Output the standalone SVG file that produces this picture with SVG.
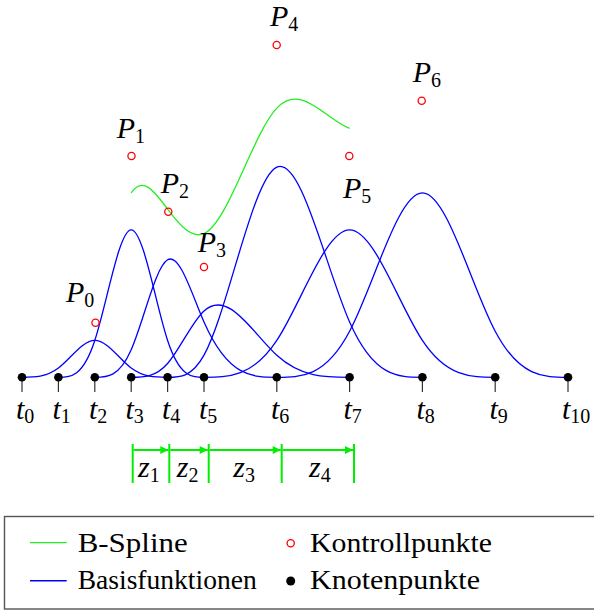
<svg xmlns="http://www.w3.org/2000/svg" width="594" height="612" viewBox="0 0 594 612">
<style>
  .math { font-family: "Liberation Serif", "Times New Roman", "DejaVu Serif", serif; font-style: italic; font-size: 30px; fill: #000; }
  .sub { font-style: normal; font-size: 20px; }
  .leg { font-family: "Liberation Serif", "Times New Roman", "DejaVu Serif", serif; font-size: 27px; fill: #000; }
  .basis { fill: none; stroke: #0000ff; stroke-width: 1.3; vector-effect: non-scaling-stroke; }
  .spline { fill: none; stroke: #22ee22; stroke-width: 1.3; vector-effect: non-scaling-stroke; }
  .cp { fill: none; stroke: #ff0000; stroke-width: 1.3; }
  .knot { fill: #000; }
  .tick { stroke: #333; stroke-width: 1.2; }
  .bar { stroke: #00ee00; stroke-width: 2; }
  .arr { stroke: #00ee00; stroke-width: 2; marker-end: url(#ah); }
</style>
<defs>
  <marker id="ah" viewBox="0 0 10 10" refX="10" refY="5" markerWidth="10" markerHeight="8" markerUnits="userSpaceOnUse" orient="auto">
    <path d="M0,0 L10,5 L0,10 Z" fill="#00ee00"/>
  </marker>
</defs>

<!-- basis functions and spline, in (t, value) units -->
<g id="curves" transform="matrix(36.4 0 0 -55.3 22 377.3)">
  <g id="basisfunktionen">
    <path id="N0" class="basis" d="M0,0 C0.3333,0 0.6667,0 1,0.16667 C1.3333,0.33333 1.6667,0.66667 2,0.66667 C2.3333,0.66667 2.6667,0.33333 3,0.16667 C3.3333,0 3.6667,0 4,0"/>
    <path id="N1" class="basis" d="M1,0 C1.3333,0 1.6667,0 2,0.66667 C2.3333,1.33333 2.6667,2.66667 3,2.66667 C3.3333,2.66667 3.6667,1.33333 4,0.66667 C4.3333,0 4.6667,0 5,0"/>
    <path id="N2" class="basis" d="M2,0 C2.3333,0 2.6667,0 3,0.5 C3.3333,1 3.6667,2 4,2.125 C4.3333,2.25 4.6667,1.5 5,1 C5.6667,0 6.3333,0 7,0"/>
    <path id="N3" class="basis" d="M3,0 C3.3333,0 3.6667,0 4,0.25 C4.3333,0.5 4.6667,1 5,1.2 C5.6667,1.6 6.3333,0.8 7,0.4 C7.6667,0 8.3333,0 9,0"/>
    <path id="N4" class="basis" d="M4,0 C4.3333,0 4.6667,0 5,0.4 C5.6667,1.2 6.3333,3.6 7,3.8 C7.6667,4 8.3333,2 9,1 C9.6667,0 10.3333,0 11,0"/>
    <path id="N5" class="basis" d="M5,0 C5.6667,0 6.3333,0 7,0.66667 C7.6667,1.33333 8.3333,2.66667 9,2.66667 C9.6667,2.66667 10.3333,1.33333 11,0.66667 C11.6667,0 12.3333,0 13,0"/>
    <path id="N6" class="basis" d="M7,0 C7.6667,0 8.3333,0 9,0.83333 C9.6667,1.66667 10.3333,3.33333 11,3.33333 C11.6667,3.33333 12.3333,1.66667 13,0.83333 C13.6667,0 14.3333,0 15,0"/>
  </g>
  <path id="bspline" class="spline" d="M3,3.33333 C3.3333,3.66667 3.6667,3.33333 4,3.04167 C4.3333,2.75 4.6667,2.5 5,2.6 C5.6667,2.8 6.3333,4.4 7,4.86667 C7.6667,5.33333 8.3333,4.66667 9,4.5"/>
</g>

<!-- knots -->
<g id="knoten">
  <g class="tick">
    <line x1="22" y1="379" x2="22" y2="392"/>
    <line x1="58.4" y1="379" x2="58.4" y2="392"/>
    <line x1="94.8" y1="379" x2="94.8" y2="392"/>
    <line x1="131.2" y1="379" x2="131.2" y2="392"/>
    <line x1="167.6" y1="379" x2="167.6" y2="392"/>
    <line x1="204" y1="379" x2="204" y2="392"/>
    <line x1="276.8" y1="379" x2="276.8" y2="392"/>
    <line x1="349.6" y1="379" x2="349.6" y2="392"/>
    <line x1="422.4" y1="379" x2="422.4" y2="392"/>
    <line x1="495.2" y1="379" x2="495.2" y2="392"/>
    <line x1="568" y1="379" x2="568" y2="392"/>
  </g>
  <g class="knot">
    <circle cx="22" cy="377.3" r="4.3"/>
    <circle cx="58.4" cy="377.3" r="4.3"/>
    <circle cx="94.8" cy="377.3" r="4.3"/>
    <circle cx="131.2" cy="377.3" r="4.3"/>
    <circle cx="167.6" cy="377.3" r="4.3"/>
    <circle cx="204" cy="377.3" r="4.3"/>
    <circle cx="276.8" cy="377.3" r="4.3"/>
    <circle cx="349.6" cy="377.3" r="4.3"/>
    <circle cx="422.4" cy="377.3" r="4.3"/>
    <circle cx="495.2" cy="377.3" r="4.3"/>
    <circle cx="568" cy="377.3" r="4.3"/>
  </g>
  <g class="math">
    <text x="16" y="419">t<tspan class="sub" dy="4">0</tspan></text>
    <text x="52.5" y="419">t<tspan class="sub" dy="4">1</tspan></text>
    <text x="89" y="419">t<tspan class="sub" dy="4">2</tspan></text>
    <text x="125.5" y="419">t<tspan class="sub" dy="4">3</tspan></text>
    <text x="162" y="419">t<tspan class="sub" dy="4">4</tspan></text>
    <text x="199" y="419">t<tspan class="sub" dy="4">5</tspan></text>
    <text x="271" y="419">t<tspan class="sub" dy="4">6</tspan></text>
    <text x="343.5" y="419">t<tspan class="sub" dy="4">7</tspan></text>
    <text x="416.5" y="419">t<tspan class="sub" dy="4">8</tspan></text>
    <text x="489.5" y="419">t<tspan class="sub" dy="4">9</tspan></text>
    <text x="562" y="419">t<tspan class="sub" dy="4">10</tspan></text>
  </g>
</g>

<!-- control points -->
<g id="kontrollpunkte">
  <g class="cp">
    <circle cx="95.5" cy="322.7" r="3.6"/>
    <circle cx="131.5" cy="156" r="3.6"/>
    <circle cx="168.3" cy="211.7" r="3.6"/>
    <circle cx="204" cy="267" r="3.6"/>
    <circle cx="276.7" cy="45" r="3.6"/>
    <circle cx="349.3" cy="156" r="3.6"/>
    <circle cx="421.7" cy="100.7" r="3.6"/>
  </g>
  <g class="math">
    <text x="66" y="301.7">P<tspan class="sub" dy="5">0</tspan></text>
    <text x="116.7" y="138">P<tspan class="sub" dy="5">1</tspan></text>
    <text x="160.7" y="193">P<tspan class="sub" dy="5">2</tspan></text>
    <text x="197.7" y="251.7">P<tspan class="sub" dy="5">3</tspan></text>
    <text x="270" y="26">P<tspan class="sub" dy="5">4</tspan></text>
    <text x="343" y="198">P<tspan class="sub" dy="5">5</tspan></text>
    <text x="412.7" y="81.7">P<tspan class="sub" dy="5">6</tspan></text>
  </g>
</g>

<!-- intervals z -->
<g id="intervalle">
  <g class="bar">
    <line x1="132.7" y1="444" x2="132.7" y2="483"/>
    <line x1="169.3" y1="444" x2="169.3" y2="483"/>
    <line x1="208.7" y1="444" x2="208.7" y2="483"/>
    <line x1="281.7" y1="444" x2="281.7" y2="483"/>
    <line x1="354" y1="444" x2="354" y2="483"/>
  </g>
  <g class="arr">
    <line x1="133.7" y1="450" x2="168.3" y2="450"/>
    <line x1="170.3" y1="450" x2="207.7" y2="450"/>
    <line x1="209.7" y1="450" x2="280.7" y2="450"/>
    <line x1="282.7" y1="450" x2="353" y2="450"/>
  </g>
  <g class="math">
    <text x="138" y="477">z<tspan class="sub" dy="5">1</tspan></text>
    <text x="176.7" y="477">z<tspan class="sub" dy="5">2</tspan></text>
    <text x="233.3" y="477">z<tspan class="sub" dy="5">3</tspan></text>
    <text x="309" y="477">z<tspan class="sub" dy="5">4</tspan></text>
  </g>
</g>

<!-- legend -->
<g id="legende">
  <rect x="4.5" y="516.5" width="600" height="92.5" fill="#fff" stroke="#555" stroke-width="1.4"/>
  <line x1="30" y1="542.7" x2="66.7" y2="542.7" stroke="#22ee22" stroke-width="1.3"/>
  <line x1="30" y1="580.7" x2="66.7" y2="580.7" stroke="#0000ff" stroke-width="1.6"/>
  <circle cx="290.7" cy="543.3" r="3.6" class="cp"/>
  <circle cx="290.7" cy="581" r="4.5" fill="#000"/>
  <text class="leg" x="77.7" y="551.7" textLength="110" lengthAdjust="spacingAndGlyphs">B-Spline</text>
  <text class="leg" x="77.7" y="589" textLength="179" lengthAdjust="spacingAndGlyphs">Basisfunktionen</text>
  <text class="leg" x="310" y="552" textLength="182" lengthAdjust="spacingAndGlyphs">Kontrollpunkte</text>
  <text class="leg" x="310" y="589" textLength="170" lengthAdjust="spacingAndGlyphs">Knotenpunkte</text>
</g>
</svg>
